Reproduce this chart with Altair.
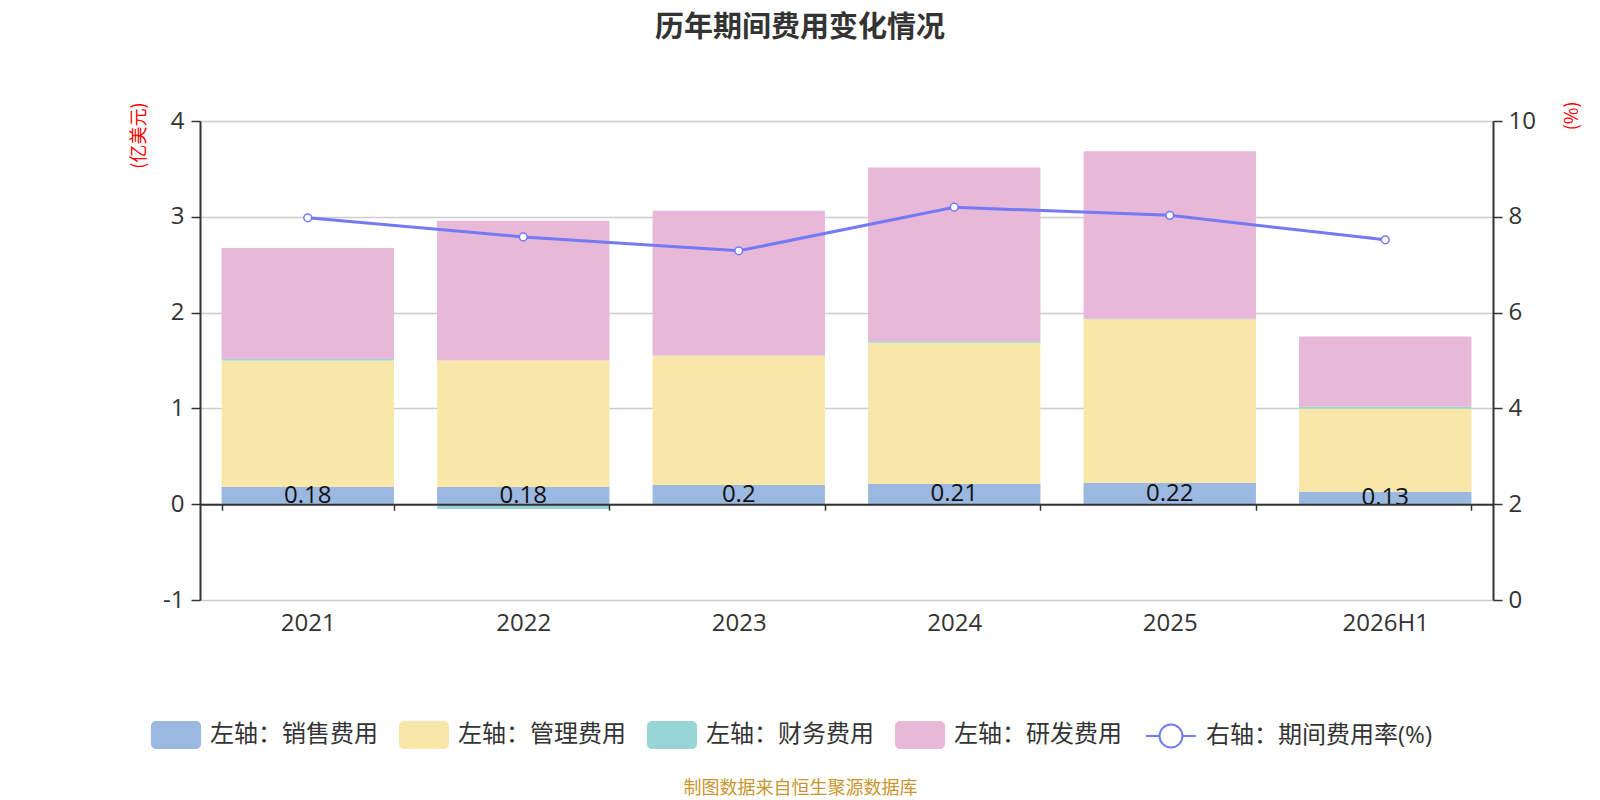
import altair as alt
import pandas as pd

years = ["2021", "2022", "2023", "2024", "2025", "2026H1"]
sales = [0.18, 0.18, 0.20, 0.21, 0.22, 0.13]
admin = [1.32, 1.32, 1.35, 1.475, 1.71, 0.87]
finance = [0.015, -0.05, 0.004, 0.015, 0.005, 0.02]
rnd = [1.16, 1.46, 1.51, 1.815, 1.75, 0.73]
rate = [7.98, 7.58, 7.29, 8.20, 8.03, 7.52]

bar_names = ["左轴：销售费用", "左轴：管理费用", "左轴：财务费用", "左轴：研发费用"]
line_name = "右轴：期间费用率(%)"
bar_colors = ["#9BB8E1", "#F8E7A9", "#97D4D4", "#E7B8D8"]
line_color = "#7479F5"
FONT = "Noto Sans CJK SC"
NUMFONT = "Open Sans, Noto Sans CJK SC"

rows = []
for i, y in enumerate(years):
    for k, vals in enumerate([sales, admin, finance, rnd]):
        rows.append({"year": y, "series": bar_names[k], "value": vals[i], "idx": k})
bar_df = pd.DataFrame(rows)
lab_df = pd.DataFrame({"year": years, "sales": sales, "label": [f"{v:g}" for v in sales]})
rate_df = pd.DataFrame({"year": years, "rate": rate, "s": [line_name] * len(years)})

W, H = 1293, 479

RECT_PATH = ("M-0.8,-0.56 H0.8 A0.2,0.2 0 0 1 1,-0.36 V0.36 A0.2,0.2 0 0 1 0.8,0.56 "
             "H-0.8 A0.2,0.2 0 0 1 -1,0.36 V-0.36 A0.2,0.2 0 0 1 -0.8,-0.56 Z")
LINE_PATH = ("M-1,0 H-0.46 M0.46,0 H1 M-0.46,0 A0.46,0.46 0 1 0 0.46,0 "
             "A0.46,0.46 0 1 0 -0.46,0 Z")

bar_legend = alt.Legend(
    title=None, orient="none", legendX=-49, legendY=589, direction="horizontal",
    columns=4, symbolType=RECT_PATH, symbolSize=2500, symbolStrokeWidth=0,
    labelFontSize=24, labelColor="#333", labelFont=FONT,
    labelOffset=9, columnPadding=21, labelLimit=400,
)
line_legend = alt.Legend(
    title=None, orient="none", legendX=945, legendY=589, direction="horizontal",
    symbolType=LINE_PATH, symbolSize=2500, symbolStrokeWidth=2, symbolFillColor="#ffffff",
    labelFontSize=24, labelColor="#333", labelFont=NUMFONT, labelOffset=9, labelLimit=400,
)

x_enc = alt.X(
    "year:N", sort=years,
    scale=alt.Scale(paddingInner=0.2, paddingOuter=0.1),
    axis=alt.Axis(
        orient="bottom", offset=-H / 5, domainColor="#333", domainWidth=2,
        tickBand="extent", tickSize=6, tickColor="#333", tickWidth=1.5,
        labelPadding=101, labelFontSize=24, labelColor="#333", labelAngle=0, labelFont=NUMFONT,
        grid=False, zindex=1,
        title="制图数据来自恒生聚源数据库", titleFontSize=18, titleColor="#C8952E",
        titleFontWeight="normal", titleFont=FONT, titleX=600, titleY=284,
        titleAlign="center", titleBaseline="middle",
    ),
)

y_left = alt.Y(
    "value:Q", stack="zero",
    scale=alt.Scale(domain=[-1, 4], nice=False, zero=False),
    axis=alt.Axis(
        values=[-1, 0, 1, 2, 3, 4], labelExpr="toString(datum.value)",
        grid=True, gridColor="#CCCCCC", gridWidth=1.5,
        domainColor="#333", domainWidth=2, tickColor="#333", tickSize=9, tickWidth=1.5,
        labelFontSize=24, labelColor="#333", labelPadding=7, labelFont=NUMFONT,
        title="(亿美元)", titleColor="#FF0000", titleFontSize=18, titleFontWeight="normal",
        titleFont=FONT, titleAngle=270, titleAlign="right", titleBaseline="middle",
        titleX=-61, titleY=-19,
    ),
)

bars = alt.Chart(bar_df).mark_bar().encode(
    x=x_enc,
    y=y_left,
    color=alt.Color("series:N", scale=alt.Scale(domain=bar_names, range=bar_colors), legend=bar_legend),
    order=alt.Order("idx:Q", sort="ascending"),
)

labels = alt.Chart(lab_df).transform_calculate(mid="datum.sales / 2").mark_text(
    fontSize=24, color="#111", baseline="middle", font=NUMFONT
).encode(
    x=alt.X("year:N", sort=years),
    y=alt.Y("mid:Q"),
    text="label:N",
)

left = alt.layer(bars, labels)

y_right = alt.Y(
    "rate:Q",
    scale=alt.Scale(domain=[0, 10], nice=False),
    axis=alt.Axis(
        orient="right", values=[0, 2, 4, 6, 8, 10], grid=False,
        domainColor="#333", domainWidth=2, tickColor="#333", tickSize=9, tickWidth=1.5,
        labelFontSize=24, labelColor="#333", labelPadding=6, labelFont=NUMFONT,
        title="(%)", titleColor="#FF0000", titleFontSize=18, titleFontWeight="normal",
        titleFont=FONT, titleAngle=270, titleAlign="right", titleBaseline="middle",
        titleX=79, titleY=-20,
    ),
)

line = alt.Chart(rate_df).mark_line(color=line_color, strokeWidth=3).encode(
    x=alt.X("year:N", sort=years), y=y_right
)
pts = alt.Chart(rate_df).mark_point(
    filled=True, fill="#ffffff", strokeWidth=1.5, size=60, opacity=1
).encode(
    x=alt.X("year:N", sort=years),
    y=alt.Y("rate:Q"),
    stroke=alt.Stroke("s:N", scale=alt.Scale(domain=[line_name], range=[line_color]), legend=line_legend),
)

right = alt.layer(line, pts)

chart = alt.layer(left, right).resolve_scale(y="independent").properties(
    width=W, height=H,
    title=alt.TitleParams(
        "历年期间费用变化情况", fontSize=29, fontWeight="bold", color="#333", font=FONT,
        anchor="middle", dx=-46.5, offset=29, baseline="bottom",
    ),
    autosize=alt.AutoSizeParams(type="none"),
    padding={"left": 192, "top": 113, "right": 92, "bottom": 200},
).configure_view(stroke=None).configure(font=FONT)

chart.save("out.html", embed_options={"renderer": "svg", "actions": False})
